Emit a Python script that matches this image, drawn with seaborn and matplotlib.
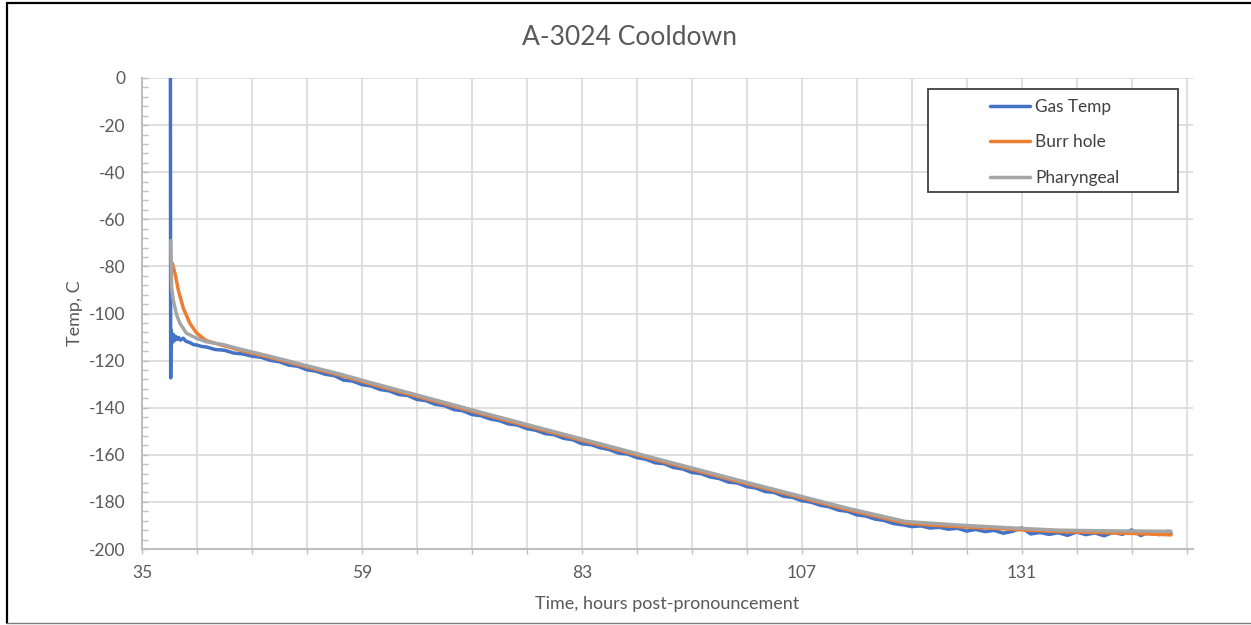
import numpy as np
import pandas as pd
import matplotlib
matplotlib.use("Agg")
import matplotlib.pyplot as plt
from matplotlib.patches import Rectangle
from matplotlib.lines import Line2D
from matplotlib.ticker import FixedLocator, MultipleLocator
import seaborn as sns

# ---------------- data ----------------
title = "A-3024 Cooldown"
x_label = "Time, hours post-pronouncement"
y_label = "Temp, C"
series_names = ["Gas Temp", "Burr hole", "Pharyngeal"]
x_tick_labels = [35, 59, 83, 107, 131]

gas_hours = [38.10, 38.13, 38.16, 38.22, 38.28, 38.35, 38.45, 38.55, 38.70, 38.85,
             39.0, 39.2, 39.5, 39.8, 40.2, 40.6, 41.0, 41.5, 42.0, 43, 44, 45, 46,
             47, 48, 49, 50, 51, 52, 53, 54, 55, 56, 57, 58, 59, 60, 61, 62, 63, 64,
             65, 66, 67, 68, 69, 70, 71, 72, 73, 74, 75, 76, 77, 78, 79, 80, 81, 82,
             83, 84, 85, 86, 87, 88, 89, 90, 91, 92, 93, 94, 95, 96, 97, 98, 99, 100,
             101, 102, 103, 104, 105, 106, 107, 108, 109, 110, 111, 112, 113, 114,
             115, 116, 117, 118, 119, 120, 121, 122, 123, 124, 125, 126, 127, 128,
             129, 130, 131, 132, 133, 134, 135, 136, 137, 138, 139, 140, 141, 142,
             143, 144, 145, 146, 147, 147.3]
gas_temp = [0.0, -127.3, -107.0, -113.0, -108.5, -112.0, -109.0, -111.5, -109.8, -111.0,
            -110.2, -111.3, -110.5, -111.8, -112.3, -113.2, -113.4, -114.0, -114.2, -115.3,
            -115.6, -116.8, -117.2,
            -118.1, -118.6, -119.9, -120.5, -121.9, -122.4, -123.9, -124.5, -125.8, -126.4,
            -128.3, -128.7, -130.2, -130.8, -132.3, -132.9, -134.4, -134.8,
            -136.5, -137.0, -138.6, -139.1, -140.8, -141.3, -142.9, -143.4, -144.8, -145.5,
            -146.9, -147.4, -148.9, -149.6, -151.0, -151.5, -153.0, -153.6,
            -155.3, -155.7, -157.0, -157.8, -159.3, -159.7, -161.2, -161.9, -163.4, -163.8,
            -165.4, -166.0, -167.5, -168.0, -169.4, -170.1, -171.6, -172.0,
            -173.5, -174.1, -175.6, -176.0, -177.6, -178.1, -179.5, -180.1, -181.4, -182.1,
            -183.5, -184.0, -185.5, -186.0, -187.3, -187.9, -189.2, -189.7,
            -190.5, -190.2, -191.1, -190.8, -191.6, -191.2, -192.4, -191.7, -192.6, -192.1,
            -193.3, -192.5, -191.0, -193.6, -193.0, -193.8, -193.1, -194.2, -192.8, -193.9,
            -193.2, -194.4, -192.9, -193.8, -191.9, -194.3, -192.6, -193.9, -192.4, -193.5]

burr_hours = [38.3, 38.6, 38.96, 39.5, 40.23, 40.96, 42.0, 43.86, 45.6, 49.3, 52.9, 56.6,
              60, 65, 72.9, 80, 89.25, 95.8, 100, 106.7, 112, 118.3, 121, 124.5, 128.5,
              130.6, 135, 140, 144, 147.3]
burr_temp = [-78.6, -83.0, -90.0, -97.7, -104.2, -108.3, -111.5, -113.6, -115.5, -119.0,
             -122.6, -126.2, -130.0, -135.2, -143.5, -150.8, -160.3, -167.0, -171.3,
             -178.0, -183.3, -189.0, -189.8, -190.6, -191.3, -191.8, -192.6, -193.1,
             -193.5, -194.0]

phar_hours = [38.13, 38.23, 38.41, 38.78, 39.14, 39.86, 40.96, 42.0, 43.86, 45.6, 49.3,
              52.9, 56.6, 60, 65, 72.9, 80, 89.25, 95.8, 100, 106.7, 112, 118.3, 124,
              130.6, 135, 140, 144, 147.3]
phar_temp = [-69.0, -89.0, -94.3, -100.6, -104.2, -108.4, -110.5, -112.0, -113.2, -115.0,
             -118.5, -122.1, -125.7, -129.4, -134.6, -142.9, -150.2, -159.7, -166.4,
             -170.7, -177.4, -182.7, -188.3, -189.8, -191.2, -192.0, -192.3, -192.4,
             -192.5]

colors = ["#4472C4", "#ED7D31", "#A5A5A5"]

frames = [
    pd.DataFrame({"hours": gas_hours, "temp": gas_temp, "series": series_names[0]}),
    pd.DataFrame({"hours": burr_hours, "temp": burr_temp, "series": series_names[1]}),
    pd.DataFrame({"hours": phar_hours, "temp": phar_temp, "series": series_names[2]}),
]

# ---------------- styling ----------------
sns.set_theme(style="white")
plt.rcParams["font.family"] = ["Lato", "DejaVu Sans"]
plt.rcParams["axes.unicode_minus"] = False

W, H = 1251, 625
fig = plt.figure(figsize=(W / 100, H / 100), dpi=100)
ax = fig.add_axes([142 / W, 1 - 549 / H, (1193 - 142) / W, (549 - 78) / H])

for df, c in zip(frames, colors):
    sns.lineplot(data=df, x="hours", y="temp", ax=ax, color=c, lw=2.5,
                 estimator=None, sort=False, legend=False)

ax.set_xlim(35, 149.7)
ax.set_ylim(-200, 0)

ax.xaxis.set_major_locator(FixedLocator(x_tick_labels))
ax.xaxis.set_minor_locator(FixedLocator(list(range(35, 150, 6))))
ax.yaxis.set_major_locator(MultipleLocator(20))
ax.yaxis.set_minor_locator(MultipleLocator(4))

grid_c = "#D9D9D9"
ax.grid(True, which="major", axis="y", color=grid_c, lw=1.2, zorder=0)
ax.grid(True, which="both", axis="x", color=grid_c, lw=1.2, zorder=0)
ax.set_axisbelow(True)

axis_c = "#BFBFBF"
for s in ["top", "right"]:
    ax.spines[s].set_visible(False)
for s in ["left", "bottom"]:
    ax.spines[s].set_color(axis_c)
    ax.spines[s].set_linewidth(1.5)

text_c = "#595959"
ax.tick_params(axis="x", which="both", direction="out", length=3.5, width=1,
               color=axis_c, labelsize=12.5, labelcolor=text_c, pad=8, bottom=True)
ax.tick_params(axis="y", which="both", direction="in", length=4, width=1,
               color=axis_c, labelsize=12.5, labelcolor=text_c, pad=12, left=True)

ax.set_xlabel(x_label, fontsize=13, color=text_c)
ax.set_ylabel(y_label, fontsize=13, color=text_c)
ax.xaxis.set_label_coords(0.5, 1 - (604 - 78) / (549 - 78), transform=ax.transAxes)
ax.xaxis.label.set_va("center")
ax.yaxis.set_label_coords((75 - 142) / (1193 - 142), 0.5, transform=ax.transAxes)
ax.yaxis.label.set_va("center")

fig.text(630 / W, 1 - 45 / H, title, ha="center", va="baseline",
         fontsize=19, color=text_c)

# legend box
box = Rectangle((928 / W, 1 - 192 / H), 250 / W, 103 / H, transform=fig.transFigure,
                facecolor="white", edgecolor="#404040", lw=1.3, zorder=4, clip_on=False)
ax.add_patch(box)
handles = [Line2D([0], [0], color=c, lw=2.5) for c in colors]
leg = ax.legend(handles, series_names, loc="upper left",
                bbox_to_anchor=(990 / W, 1 - 99 / H), bbox_transform=fig.transFigure,
                frameon=False, borderpad=0, borderaxespad=0, fontsize=12.4,
                handlelength=2.32, handletextpad=0.3, labelspacing=1.12)
leg.set_zorder(5)
for t in leg.get_texts():
    t.set_color("#404040")

# outer border of the picture
fig.add_artist(Line2D([7 / W, 7 / W], [2 / H, 1 - 3 / H], transform=fig.transFigure,
                      color="black", lw=1.6))
fig.add_artist(Line2D([7 / W, 1.0], [1 - 3 / H, 1 - 3 / H], transform=fig.transFigure,
                      color="black", lw=1.6))
fig.add_artist(Line2D([7 / W, 1.0], [2 / H, 2 / H], transform=fig.transFigure,
                      color="#7F7F7F", lw=1.0))

fig.savefig("out.png", dpi=100, facecolor="white")
